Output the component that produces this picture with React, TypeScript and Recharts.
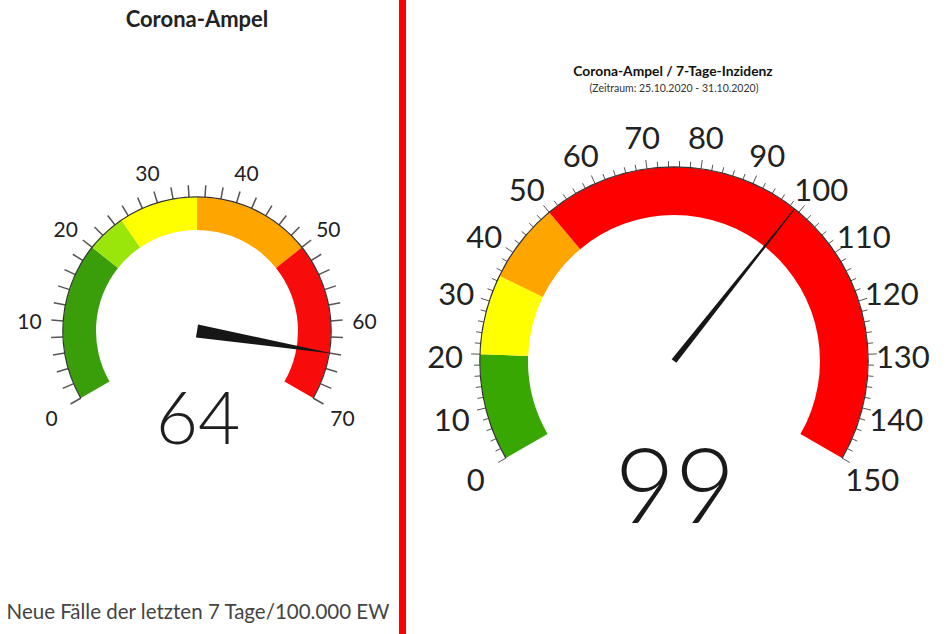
import React from "react";
import { PieChart, Pie, Cell, RadialBarChart, RadialBar, PolarAngleAxis } from "recharts";

const RADIAN = Math.PI / 180;
const START_ANGLE = 210;
const END_ANGLE = -30;
const FONT = "Lato, 'Open Sans', sans-serif";

// left gauge (Corona-Ampel)
const LEFT_MAX = 70;
const LEFT_VALUE = 64;
const LEFT_BAND_ENDS = [20, 25, 35, 50, 70];
const LEFT_BAND_COLORS = ["#3a9e0b", "#9be60a", "#ffff00", "#ffa500", "#f80b0b"];
const LEFT_LABELS = [0, 10, 20, 30, 40, 50, 60, 70];

// right gauge (7-Tage-Inzidenz)
const RIGHT_MAX = 150;
const RIGHT_VALUE = 99;
const RIGHT_BAND_ENDS = [20, 35, 50, 150];
const RIGHT_BAND_COLORS = ["#39a701", "#ffff00", "#ffa500", "#ff0000"];
const RIGHT_LABELS = [0, 10, 20, 30, 40, 50, 60, 70, 80, 90, 100, 110, 120, 130, 140, 150];

const MINOR_STEP = 2;

const polar = (cx: number, cy: number, r: number, angle: number) => ({
  x: cx + Math.cos(-angle * RADIAN) * r,
  y: cy + Math.sin(-angle * RADIAN) * r,
});

interface GaugeProps {
  left: number;
  width: number;
  height: number;
  cx: number;
  cy: number;
  innerR: number;
  outerR: number;
  max: number;
  value: number;
  bandEnds: number[];
  colors: string[];
  labels: number[];
  minorLen: number;
  majorLen: number;
  tickWidth: number;
  labelR: number;
  labelSize: number;
  labelDy: number;
  needleWidth: number;
  tipWidth: number;
}

function Gauge(g: GaugeProps) {
  const bands = g.bandEnds.map((end, i) => ({
    name: `b${i}`,
    value: end - (i === 0 ? 0 : g.bandEnds[i - 1]),
  }));
  const ticks = Array.from({ length: g.max / MINOR_STEP + 1 }, (_, i) => i * MINOR_STEP);
  const needleData = [
    { name: "value", value: g.value },
    { name: "rest", value: g.max - g.value },
  ];

  const renderTick = (p: any) => {
    const angle = p.payload.coordinate;
    const v = p.payload.value;
    const cx = p.cx ?? g.cx;
    const cy = p.cy ?? g.cy;
    const major = g.labels.includes(v);
    const a = polar(cx, cy, g.outerR, angle);
    const b = polar(cx, cy, g.outerR + (major ? g.majorLen : g.minorLen), angle);
    const t = polar(cx, cy, g.labelR, angle);
    return (
      <g>
        <line x1={a.x} y1={a.y} x2={b.x} y2={b.y} stroke="#555" strokeWidth={g.tickWidth} />
        {major && (
          <text
            x={t.x}
            y={t.y + g.labelDy}
            textAnchor="middle"
            dominantBaseline="central"
            fontSize={g.labelSize}
            fontFamily={FONT}
            fill="#222"
          >
            {v}
          </text>
        )}
      </g>
    );
  };

  const renderNeedle = (p: any) => {
    if (p.index !== 0) return null;
    const angle = p.endAngle ?? 2 * p.midAngle - START_ANGLE;
    const tip1 = polar(p.cx, p.cy, p.outerRadius, angle + (g.tipWidth / 2 / p.outerRadius) / RADIAN);
    const tip2 = polar(p.cx, p.cy, p.outerRadius, angle - (g.tipWidth / 2 / p.outerRadius) / RADIAN);
    const b1 = polar(p.cx, p.cy, g.needleWidth / 2, angle + 90);
    const b2 = polar(p.cx, p.cy, g.needleWidth / 2, angle - 90);
    return (
      <polygon
        points={`${b1.x},${b1.y} ${tip1.x},${tip1.y} ${tip2.x},${tip2.y} ${b2.x},${b2.y}`}
        fill="#161616"
      />
    );
  };

  const layer: React.CSSProperties = { position: "absolute", left: 0, top: 0 };

  return (
    <div style={{ position: "absolute", left: g.left, top: 0, width: g.width, height: g.height }}>
      <div style={layer}>
        <RadialBarChart
          width={g.width}
          height={g.height}
          cx={g.cx}
          cy={g.cy}
          innerRadius={g.innerR}
          outerRadius={g.outerR}
          startAngle={START_ANGLE}
          endAngle={END_ANGLE}
          data={[{ name: "scale", v: g.max }]}
          margin={{ top: 0, right: 0, bottom: 0, left: 0 }}
        >
          <PolarAngleAxis
            type="number"
            domain={[0, g.max]}
            ticks={ticks}
            tick={renderTick}
            tickLine={false}
            axisLine={false}
          />
          <RadialBar dataKey="v" fill="none" isAnimationActive={false} />
        </RadialBarChart>
      </div>
      <div style={layer}>
        <PieChart width={g.width} height={g.height} margin={{ top: 0, right: 0, bottom: 0, left: 0 }}>
          <Pie
            data={bands}
            dataKey="value"
            cx={g.cx}
            cy={g.cy}
            startAngle={START_ANGLE}
            endAngle={END_ANGLE}
            innerRadius={g.innerR}
            outerRadius={g.outerR}
            stroke="none"
            isAnimationActive={false}
          >
            {bands.map((b, i) => (
              <Cell key={b.name} fill={g.colors[i]} />
            ))}
          </Pie>
          <Pie
            data={[{ name: "rim", value: g.max }]}
            dataKey="value"
            cx={g.cx}
            cy={g.cy}
            startAngle={START_ANGLE}
            endAngle={END_ANGLE}
            innerRadius={g.outerR - 0.4}
            outerRadius={g.outerR + 0.8}
            fill="#333"
            stroke="none"
            isAnimationActive={false}
          />
          <Pie
            data={needleData}
            dataKey="value"
            cx={g.cx}
            cy={g.cy}
            startAngle={START_ANGLE}
            endAngle={END_ANGLE}
            innerRadius={0}
            outerRadius={g.outerR}
            fill="none"
            stroke="none"
            label={renderNeedle}
            labelLine={false}
            isAnimationActive={false}
          />
        </PieChart>
      </div>
    </div>
  );
}

export default function App() {
  return (
    <div
      style={{
        position: "absolute",
        left: 0,
        top: 0,
        width: 951,
        height: 634,
        background: "#fff",
        overflow: "hidden",
        fontFamily: FONT,
      }}
    >
      <Gauge
        left={0}
        width={399}
        height={634}
        cx={197}
        cy={331}
        innerR={101}
        outerR={134}
        max={LEFT_MAX}
        value={LEFT_VALUE}
        bandEnds={LEFT_BAND_ENDS}
        colors={LEFT_BAND_COLORS}
        labels={LEFT_LABELS}
        minorLen={12}
        majorLen={12}
        tickWidth={1.5}
        labelR={168}
        labelSize={21}
        labelDy={2}
        needleWidth={13}
        tipWidth={0.5}
      />
      <div style={{ position: "absolute", left: 399, top: 0, width: 7, height: 634, background: "#ff0000" }} />
      <Gauge
        left={406}
        width={545}
        height={634}
        cx={268}
        cy={361}
        innerR={146}
        outerR={194}
        max={RIGHT_MAX}
        value={RIGHT_VALUE}
        bandEnds={RIGHT_BAND_ENDS}
        colors={RIGHT_BAND_COLORS}
        labels={RIGHT_LABELS}
        minorLen={6}
        majorLen={9}
        tickWidth={1}
        labelR={229}
        labelSize={31}
        labelDy={3}
        needleWidth={6}
        tipWidth={1}
      />
      <svg width={951} height={634} style={{ position: "absolute", left: 0, top: 0, pointerEvents: "none" }}>
        <text x={197} y={27} textAnchor="middle" fontSize={22} fontWeight={700} fill="#222" fontFamily={FONT}>
          Corona-Ampel
        </text>
        <text x={198} y={444} textAnchor="middle" fontSize={73} fontWeight={300} fill="#1e1e1e" fontFamily={FONT}>
          {LEFT_VALUE}
        </text>
        <text x={198} y={619} textAnchor="middle" fontSize={20.5} fill="#444" fontFamily={FONT}>
          Neue Fälle der letzten 7 Tage/100.000 EW
        </text>
        <text x={673} y={76} textAnchor="middle" fontSize={13.8} fontWeight={700} fill="#111" fontFamily={FONT}>
          Corona-Ampel / 7-Tage-Inzidenz
        </text>
        <text x={674} y={92} textAnchor="middle" fontSize={10.5} fill="#333" fontFamily={FONT}>
          (Zeitraum: 25.10.2020 - 31.10.2020)
        </text>
        <text x={675} y={523} textAnchor="middle" fontSize={104} fontWeight={300} fill="#1a1a1a" fontFamily={FONT}>
          {RIGHT_VALUE}
        </text>
      </svg>
    </div>
  );
}
